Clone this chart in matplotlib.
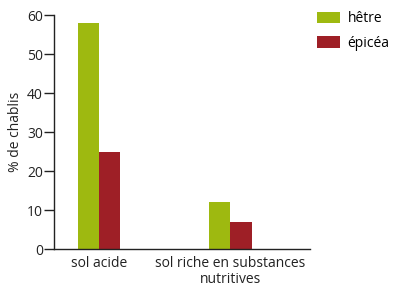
import numpy as np
import matplotlib.pyplot as plt

# data
categories = ["sol acide", "sol riche en substances\nnutritives"]
hetre = [58, 12]
epicea = [25, 7]
series_names = ["hêtre", "épicéa"]

plt.rcParams["font.family"] = ["Open Sans", "DejaVu Sans"]

green = "#9eb910"
red = "#9e1f26"
txt = "#222222"
fs = 10

fig = plt.figure(figsize=(3.94, 2.91), dpi=100)
ax = fig.add_axes([0.137, 0.144, 0.650, 0.804])

x = np.arange(len(categories))
w = 0.16
ax.bar(x - w / 2, hetre, w, color=green, label=series_names[0])
ax.bar(x + w / 2, epicea, w, color=red, label=series_names[1])

ax.set_xlim(-0.342, 1.605)
ax.set_ylim(0, 60)
ax.set_yticks(range(0, 61, 10))
ax.set_xticks(x)
ax.set_xticklabels(categories, fontsize=fs, color=txt, linespacing=1.1)
ax.tick_params(axis="x", length=0, pad=5)
ax.tick_params(axis="y", length=7, width=1, labelsize=fs, colors=txt, pad=1)
ax.set_ylabel("% de chablis", fontsize=fs, color=txt, labelpad=3)

for s in ["top", "right"]:
    ax.spines[s].set_visible(False)
for s in ["left", "bottom"]:
    ax.spines[s].set_color(txt)
    ax.spines[s].set_linewidth(1)

fig.legend(
    loc="upper left",
    bbox_to_anchor=(317 / 394, 1 - 11 / 291),
    frameon=False,
    fontsize=fs,
    borderaxespad=0,
    borderpad=0,
    handlelength=1.65,
    handleheight=0.86,
    handletextpad=0.55,
    labelspacing=0.7,
)

fig.savefig("out.png", dpi=100)
